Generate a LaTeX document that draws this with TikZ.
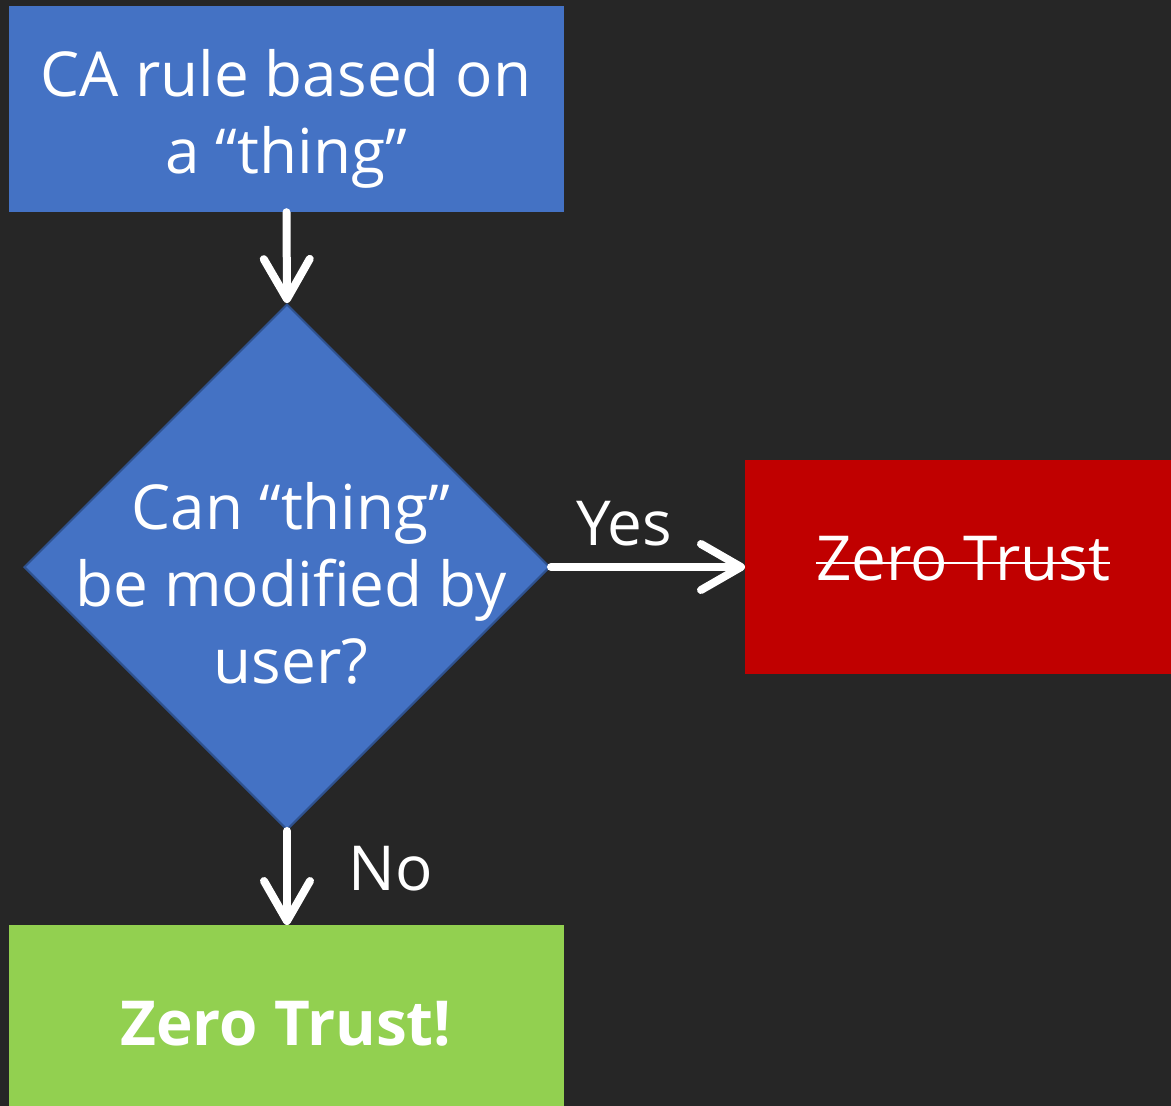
\documentclass[tikz,border=0pt]{standalone}
\usepackage{fontspec}
\setmainfont{Open Sans}
\usetikzlibrary{arrows.meta,shapes.geometric}
\definecolor{bg}{RGB}{38,38,38}
\definecolor{boxblue}{RGB}{68,114,196}
\definecolor{edgeblue}{RGB}{47,82,143}
\definecolor{boxred}{RGB}{192,0,0}
\definecolor{boxgreen}{RGB}{146,208,80}
\tikzset{
  box/.style={rectangle, inner sep=0pt, text=white, align=center,
    font=\fontsize{62}{77}\selectfont},
  conn/.style={draw=white, line width=8pt, line cap=round,
    -{Straight Barb[length=40pt,width=46pt,round,line width=8pt]}},
  lbl/.style={text=white, inner sep=0pt, font=\fontsize{62}{77}\selectfont, anchor=base},
}
\begin{document}
\begin{tikzpicture}[x=1pt,y=-1pt]
  % canvas
  \fill[bg] (0,0) rectangle (1171,1106);
  \useasboundingbox (0,0) rectangle (1171,1106);

  % start box
  \node[box, fill=boxblue, minimum width=555pt, minimum height=206pt] (start) at (286.5,109) {};
  \node[box, anchor=base] (starttxt) at (286,173) {CA rule based on\\a “thing”};

  % decision
  \node[diamond, aspect=1, fill=boxblue, draw=edgeblue, line width=2pt,
        minimum width=526pt, minimum height=526pt, inner sep=0pt] (dec) at (287,567) {};
  \node[box, anchor=center] (dectxt) at (291,583) {Can “thing”\\be modified by\\user?};

  % outcome: yes
  \node[box, fill=boxred, minimum width=440pt, minimum height=214pt, anchor=north west] (yesbox) at (745,460) {};
  \node[box, anchor=base] (yestxt) at (963,580) {Zero Trust};
  \draw[white, line width=1.6pt] ([yshift=17pt]yestxt.base west) -- ([yshift=17pt]yestxt.base east);

  % outcome: no
  \node[box, fill=boxgreen, minimum width=555pt, minimum height=190pt, anchor=north west] (nobox) at (9,925) {};
  \node[box, anchor=base, font=\fontsize{62}{77}\selectfont\bfseries] (notxt) at (286,1045) {Zero Trust!};

  % connectors
  \draw[conn] (start.south) -- (dec.north);
  \draw[conn] (dec.east) -- (yesbox.west |- dec.east);
  \draw[conn] (dec.south) -- (nobox.north -| dec.south);

  % branch labels
  \node[lbl] (yeslbl) at (624,545) {Yes};
  \node[lbl] (nolbl) at (391,890) {No};
\end{tikzpicture}
\end{document}
